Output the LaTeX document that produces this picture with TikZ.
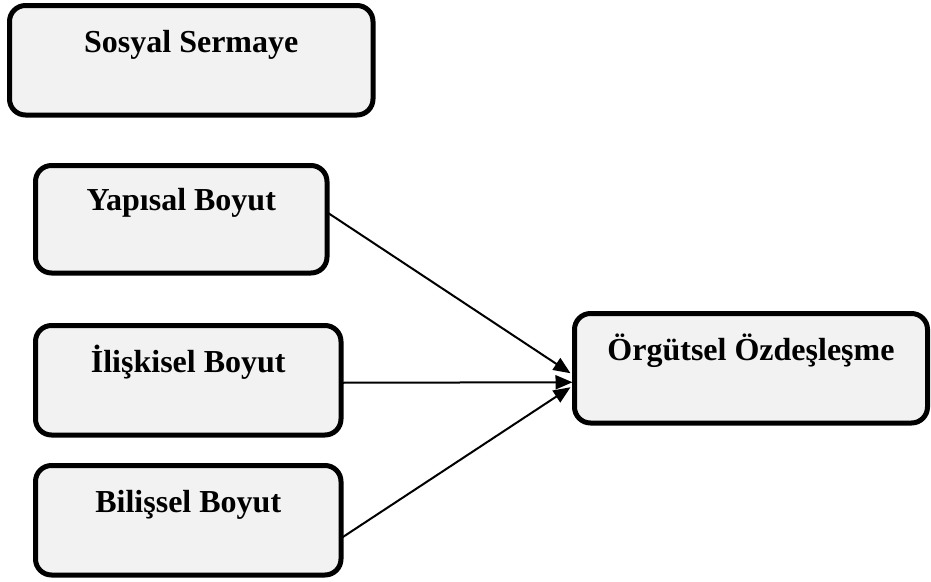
\documentclass[tikz,border=0pt]{standalone}
\usepackage{fontspec}
\setmainfont{Liberation Serif}
\usetikzlibrary{arrows.meta}
\definecolor{boxfill}{HTML}{F2F2F2}
\begin{document}
\begin{tikzpicture}[x=1pt,y=-1pt,
  box/.style={draw=black, line width=5pt, fill=boxfill, rounded corners=16pt,
    outer sep=0pt, inner xsep=0pt, inner ysep=0pt, anchor=north west,
    text height=46.5pt, text depth=63pt,
    font=\fontsize{32}{38}\selectfont\bfseries},
  conn/.style={line width=2pt, -{Triangle[length=17pt,width=14pt]}}]
\useasboundingbox (0,0) rectangle (931,581);
\node[box, minimum width=363.5pt] (sos) at (9.5,5.5) {Sosyal Sermaye};
\node[box, minimum width=291.5pt, text height=44.75pt, text depth=62.75pt] (yap) at (35.5,165.5) {Yapısal Boyut};
\node[box, minimum width=305.5pt] (ili) at (35.5,325.5) {İlişkisel Boyut};
\node[box, minimum width=305.5pt] (bil) at (35.5,465.5) {Bilişsel Boyut};
\node[box, minimum width=353pt] (org) at (574.5,313.5) {Örgütsel Özdeşleşme};
\draw[conn] ([yshift=7pt]yap.east) -- ([xshift=-4pt,yshift=-5pt]org.west);
\draw[conn] ([yshift=-2.5pt]ili.east) -- ([xshift=-2pt,yshift=-14pt]org.west);
\draw[conn] ([yshift=-18pt]bil.east) -- ([xshift=-4pt,yshift=-19pt]org.west);
\end{tikzpicture}
\end{document}
